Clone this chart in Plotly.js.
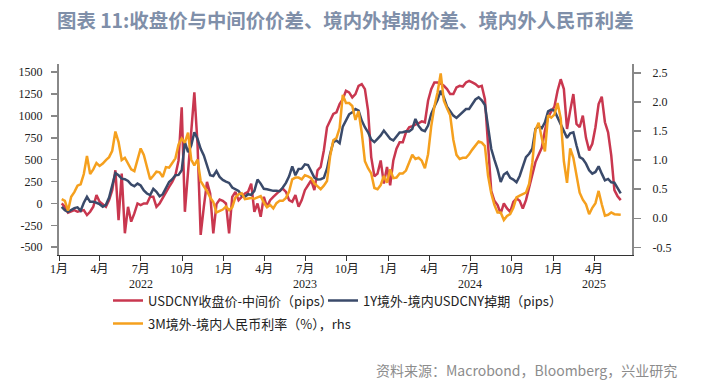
<!DOCTYPE html>
<html><head><meta charset="utf-8">
<script src="https://cdn.plot.ly/plotly-3.0.1.min.js"></script>
<style>html,body{margin:0;padding:0;background:#fff}#chart{width:703px;height:386px}</style>
</head><body><div id="chart"></div>
<script>
const dates = [
'2022-01-07','2022-01-14','2022-01-21','2022-01-28','2022-02-04','2022-02-11','2022-02-18','2022-02-25','2022-03-04','2022-03-11','2022-03-18','2022-03-25','2022-04-01','2022-04-08','2022-04-15','2022-04-22','2022-04-29','2022-05-06','2022-05-13','2022-05-20','2022-05-27','2022-06-03','2022-06-10','2022-06-17','2022-06-24','2022-07-01','2022-07-08','2022-07-15','2022-07-22','2022-07-29','2022-08-05','2022-08-12','2022-08-19','2022-08-26','2022-09-02','2022-09-09','2022-09-16','2022-09-23','2022-09-30','2022-10-07','2022-10-14','2022-10-21','2022-10-28','2022-11-04','2022-11-11','2022-11-18','2022-11-25','2022-12-02','2022-12-09','2022-12-16','2022-12-23','2022-12-30',
'2023-01-06','2023-01-13','2023-01-20','2023-01-27','2023-02-03','2023-02-10','2023-02-17','2023-02-24','2023-03-03','2023-03-10','2023-03-17','2023-03-24','2023-03-31','2023-04-07','2023-04-14','2023-04-21','2023-04-28','2023-05-05','2023-05-12','2023-05-19','2023-05-26','2023-06-02','2023-06-09','2023-06-16','2023-06-23','2023-06-30','2023-07-07','2023-07-14','2023-07-21','2023-07-28','2023-08-04','2023-08-11','2023-08-18','2023-08-25','2023-09-01','2023-09-08','2023-09-15','2023-09-22','2023-09-29','2023-10-06','2023-10-13','2023-10-20','2023-10-27','2023-11-03','2023-11-10','2023-11-17','2023-11-24','2023-12-01','2023-12-08','2023-12-15','2023-12-22','2023-12-29',
'2024-01-05','2024-01-12','2024-01-19','2024-01-26','2024-02-02','2024-02-09','2024-02-16','2024-02-23','2024-03-01','2024-03-08','2024-03-15','2024-03-22','2024-03-29','2024-04-05','2024-04-12','2024-04-19','2024-04-26','2024-05-03','2024-05-10','2024-05-17','2024-05-24','2024-05-31','2024-06-07','2024-06-14','2024-06-21','2024-06-28','2024-07-05','2024-07-12','2024-07-19','2024-07-26','2024-08-02','2024-08-09','2024-08-16','2024-08-23','2024-08-30','2024-09-06','2024-09-13','2024-09-20','2024-09-27','2024-10-04','2024-10-11','2024-10-18','2024-10-25','2024-11-01','2024-11-08','2024-11-15','2024-11-22','2024-11-29','2024-12-06','2024-12-13','2024-12-20','2024-12-27',
'2025-01-03','2025-01-10','2025-01-17','2025-01-24','2025-01-31','2025-02-07','2025-02-14','2025-02-21','2025-02-28','2025-03-07','2025-03-14','2025-03-21','2025-03-28','2025-04-04','2025-04-11','2025-04-18','2025-04-25','2025-05-02','2025-05-09','2025-05-16','2025-05-23','2025-05-30'
];
const spotFixing = [
0,-38,-106,-87,-76,-95,-83,-76,-133,-95,-38,95,19,-8,-38,38,152,379,-190,341,-341,-38,-208,-114,0,-19,0,0,76,76,-38,0,68,121,189,246,322,492,1099,-95,379,871,1269,682,
-360,-38,246,114,-341,-8,45,30,0,-341,76,133,38,76,114,133,227,-95,0,-152,76,-38,38,76,114,144,170,133,38,19,95,-38,38,152,208,265,152,379,417,606,871,947,1023,1042,1136,
1193,1288,1269,1212,1250,1345,1364,1307,1061,530,311,341,492,227,417,208,492,625,700,700,814,871,883,898,917,939,928,1174,1307,1383,1383,1371,1345,1307,1250,1250,1326,1345,1337,1383,1402,1383,1364,1333,
1345,1193,720,144,30,-19,-114,0,-57,-95,19,57,30,-57,38,189,341,473,557,636,833,985,1053,1106,1288,1420,1307,852,1061,1250,909,871,1004,750,606,682,871,1136,1220,928,814,549,152,83,38
];
const swap1Y = [
-38,-76,-95,-76,-53,-45,-83,8,76,19,19,8,-8,-38,-15,68,208,348,322,284,277,258,216,197,227,205,148,114,95,167,133,83,106,174,246,277,322,326,379,700,587,663,814,739,
625,549,436,322,314,371,303,269,250,235,182,163,144,91,76,106,98,144,273,227,167,163,152,144,144,140,182,235,311,424,322,394,398,447,439,364,295,273,277,292,398,568,701,720,689,
879,955,1019,1042,1080,1061,947,871,814,731,701,739,777,833,780,739,720,765,811,814,826,822,852,966,886,841,826,890,1023,1106,1182,1288,1212,1106,1049,1004,977,1011,1045,1080,1080,1136,1189,1212,
1178,1125,879,625,500,390,246,330,356,292,273,242,314,424,530,568,625,852,883,860,928,1053,1072,1061,985,890,814,750,803,814,663,530,508,455,379,341,360,424,341,265,280,242,238,170,114
];
const rate3M = [
0.33,0.30,0.13,0.37,0.45,0.56,0.585,0.76,1.07,0.76,0.84,0.95,0.90,0.94,1.00,1.05,1.16,1.49,1.31,1.00,1.04,0.94,0.84,0.81,1.01,1.20,1.09,0.87,0.67,0.73,0.80,0.79,0.71,0.88,0.87,0.95,1.03,1.27,1.37,1.30,1.47,1.01,0.91,1.01,
0.64,0.55,0.47,0.36,0.28,0.10,0.12,0.15,0.20,0.14,0.19,0.36,0.41,0.43,0.33,0.335,0.35,0.335,0.36,0.38,0.27,0.19,0.23,0.17,0.26,0.30,0.30,0.35,0.46,0.67,0.70,0.70,0.67,0.74,0.72,0.69,0.60,0.55,0.50,0.56,0.64,1.07,1.34,1.38,1.55,
2.12,1.98,1.98,1.93,1.69,1.84,1.47,0.98,0.86,0.77,0.52,0.50,0.57,0.73,0.61,0.84,0.69,0.70,0.77,0.77,0.82,0.97,1.09,1.02,1.04,0.99,0.86,1.10,1.58,1.92,2.16,2.49,2.02,1.89,1.77,1.35,1.09,1.02,1.04,1.04,1.10,1.18,1.26,1.32,
1.30,1.24,0.73,0.43,0.23,0.10,0.10,-0.03,0.04,0.07,0.18,0.36,0.39,0.41,0.44,0.59,0.95,1.52,1.64,1.38,1.15,1.77,1.73,1.78,1.98,1.72,0.98,0.61,1.20,1.04,0.76,0.44,0.32,0.24,0.07,0.18,0.26,0.47,0.24,0.045,0.06,0.10,0.07,0.07,0.06
];
const seriesNames = ['USDCNY收盘价-中间价（pips）','1Y境外-境内USDCNY掉期（pips）','3M境外-境内人民币利率（%），rhs'];
const xTickVals = ['2022-01-01','2022-04-01','2022-07-01','2022-10-01','2023-01-01','2023-04-01','2023-07-01','2023-10-01','2024-01-01','2024-04-01','2024-07-01','2024-10-01','2025-01-01','2025-04-01'];
const xTickText = ['1月','4月','7月','10月','1月','4月','7月','10月','1月','4月','7月','10月','1月','4月'];
const yearLabels = ['2022','2023','2024','2025'];
const yearLabelDates = ['2022-07-01','2023-07-01','2024-07-01','2025-04-01'];
const yTickVals = [1500,1250,1000,750,500,250,0,-250,-500];
const yTickText = ['1500','1250','1000','750','500','250','0','-250','-500'];
const y2TickVals = [2.5,2,1.5,1,0.5,0,-0.5];
const y2TickText = ['2.5','2.0','1.5','1.0','0.5','0.0','-0.5'];
const titleText = '图表 11:收盘价与中间价价差、境内外掉期价差、境内外人民币利差';
const sourceText = '资料来源：Macrobond，Bloomberg，兴业研究';

const serif = 'Liberation Serif, Noto Sans CJK SC, serif';
const sans = 'Noto Sans CJK SC, Noto Sans, sans-serif';

const traces = [
  {x: dates, y: spotFixing, name: seriesNames[0], type: 'scatter', mode: 'lines',
   line: {color: '#c9374f', width: 2.5}, yaxis: 'y', legend: 'legend'},
  {x: dates, y: swap1Y, name: seriesNames[1], type: 'scatter', mode: 'lines',
   line: {color: '#3a4a6a', width: 2.5}, yaxis: 'y', legend: 'legend2'},
  {x: dates, y: rate3M, name: seriesNames[2], type: 'scatter', mode: 'lines',
   line: {color: '#f5a01e', width: 2.5}, yaxis: 'y2', legend: 'legend3'}
];

const legendBase = {orientation: 'h', xanchor: 'left', yanchor: 'middle', bgcolor: 'rgba(0,0,0,0)',
  borderwidth: 0, font: {family: sans, size: 13, color: '#222'}, itemwidth: 30};

const yearAnnotations = yearLabels.map((t, i) => ({text: t, x: yearLabelDates[i], xref: 'x',
  y: (255-283.5)/191, yref: 'paper', xanchor: 'center', yanchor: 'middle', showarrow: false,
  font: {family: serif, size: 12, color: '#222'}}));

const layout = {
  width: 703, height: 386,
  margin: {l: 59, r: 71, t: 64, b: 131, autoexpand: false},
  paper_bgcolor: '#fff', plot_bgcolor: '#fff',
  title: {text: titleText, xref: 'container', yref: 'container', x: 57/703, xanchor: 'left',
    y: 1 - 21/386, yanchor: 'middle',
    font: {family: sans, size: 19.4, weight: 'bold', color: '#7f8fa9'}},
  xaxis: {type: 'date', range: ['2022-01-01', '2025-06-24'], tickmode: 'array',
    tickvals: xTickVals, ticktext: xTickText, ticks: 'outside', ticklen: 5, tickcolor: '#333', tickwidth: 1,
    showline: true, linecolor: '#333', linewidth: 1.3, showgrid: false, zeroline: false,
    ticklabelstandoff: -3,
    tickfont: {family: serif, size: 12, color: '#222'}},
  yaxis: {range: [-589, 1594], tickmode: 'array', tickvals: yTickVals, ticktext: yTickText,
    ticks: 'outside', ticklen: 6, tickcolor: '#888', tickwidth: 1.5, showline: true, linecolor: '#888',
    linewidth: 2, showgrid: false, zeroline: false, ticklabelstandoff: 6,
    tickfont: {family: serif, size: 12, color: '#222'}},
  yaxis2: {overlaying: 'y', side: 'right', range: [-0.631, 2.651], tickmode: 'array',
    tickvals: y2TickVals, ticktext: y2TickText, ticks: 'outside', ticklen: 7, tickcolor: '#888', tickwidth: 1.5,
    showline: true, linecolor: '#888', linewidth: 2, showgrid: false, zeroline: false, ticklabelstandoff: 9,
    tickfont: {family: serif, size: 12, color: '#222'}},
  legend: Object.assign({}, legendBase, {x: (108-59)/573, y: (255-300.5)/191}),
  legend2: Object.assign({}, legendBase, {x: (323-59)/573, y: (255-300.5)/191}),
  legend3: Object.assign({}, legendBase, {x: (108-59)/573, y: (255-323.5)/191}),
  annotations: yearAnnotations.concat([{text: sourceText, xref: 'paper', yref: 'paper', x: (679-59)/573, xanchor: 'right',
    y: (255-370)/191, yanchor: 'middle', showarrow: false,
    font: {family: sans, size: 14, color: '#8c8c8c'}}]),
  showlegend: true
};

Plotly.newPlot('chart', traces, layout, {displayModeBar: false, staticPlot: true});
</script></body></html>
